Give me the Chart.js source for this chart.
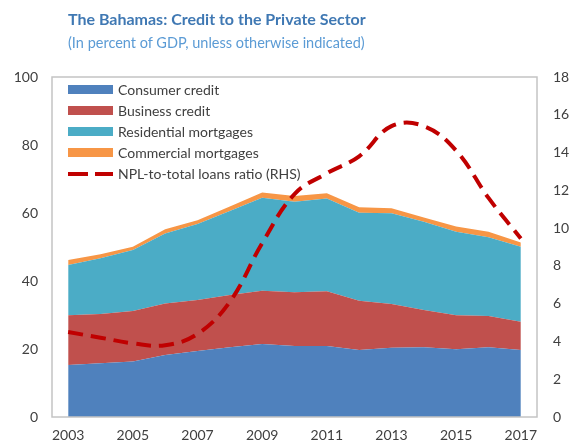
<!DOCTYPE html>
<html>
<head>
<meta charset="utf-8">
<script src="https://cdn.jsdelivr.net/npm/chart.js@4/dist/chart.umd.min.js"></script>
<style>
    html, body { margin: 0; padding: 0; background: #fff; }
    #wrap { position: relative; width: 575px; height: 446px; overflow: hidden; font-family: Lato, sans-serif; }
    #chart { position: absolute; left: 0; top: 0; }
    .title { position: absolute; left: 68px; top: 9px; font-size: 16px; font-weight: bold; color: #3f78b3; white-space: nowrap; }
    .subtitle { position: absolute; left: 68px; top: 34px; font-size: 14.5px; color: #5b9bd5; white-space: nowrap; }
    #legend { position: absolute; left: 68px; top: 79px; }
    .leg-row { display: flex; align-items: center; height: 21px; font-size: 14px; color: #404040; white-space: nowrap; }
    .leg-box { width: 45px; height: 9px; margin-right: 5px; }
    .leg-row svg { margin-right: 5px; }
</style>
</head>
<body>
<div id="wrap">
    <canvas id="chart" width="575" height="446"></canvas>
    <div class="title">The Bahamas: Credit to the Private Sector</div>
    <div class="subtitle">(In percent of GDP, unless otherwise indicated)</div>
    <div id="legend"></div>
</div>
<script>
const years = ["2003","2004","2005","2006","2007","2008","2009","2010","2011","2012","2013","2014","2015","2016","2017"];

// left axis, percent of GDP (stacked)
const consumerCredit      = [15.3, 15.8, 16.3, 18.2, 19.4, 20.5, 21.5, 20.9, 20.9, 19.7, 20.4, 20.5, 19.9, 20.5, 19.7];
const businessCredit      = [14.6, 14.5, 14.9, 15.2, 15.0, 15.4, 15.6, 15.8, 16.1, 14.5, 12.8, 11.0, 10.0,  9.2,  8.3];
const residentialMortgage = [14.8, 16.4, 17.9, 20.6, 22.4, 24.7, 27.4, 26.6, 27.3, 25.9, 26.7, 25.9, 24.6, 23.2, 22.1];
const commercialMortgage  = [ 1.5,  1.2,  1.0,  1.2,  1.1,  1.3,  1.5,  1.7,  1.5,  1.6,  1.5,  1.3,  1.5,  1.6,  1.2];

// right axis
const nplRatio = [4.5, 4.2, 3.9, 3.8, 4.4, 6.1, 9.2, 11.8, 12.9, 13.8, 15.4, 15.4, 14.1, 11.6, 9.45];

const leftTicks = [0, 20, 40, 60, 80, 100];
const rightTicks = [0, 2, 4, 6, 8, 10, 12, 14, 16, 18];

const areaSeries = [
    { label: "Consumer credit", data: consumerCredit, color: "#4f81bd" },
    { label: "Business credit", data: businessCredit, color: "#c0504d" },
    { label: "Residential mortgages", data: residentialMortgage, color: "#4bacc6" },
    { label: "Commercial mortgages", data: commercialMortgage, color: "#f79646" }
];
const NPL_LABEL = "NPL-to-total loans ratio (RHS)";
const NPL_COLOR = "#c00000";
const TICK_FONT = { family: "Lato", size: 14 };
const TICK_COLOR = "#404040";

var frame = {
    id: "frame",
    afterDraw: function(chart) {
        var a = chart.chartArea;
        var ctx = chart.ctx;
        ctx.save();
        ctx.strokeStyle = "#c4c4c4";
        ctx.lineWidth = 1.5;
        ctx.strokeRect(a.left, a.top, a.right - a.left, a.bottom - a.top);
        ctx.restore();
    }
};

function buildChart() {
    var datasets = areaSeries.map(function(s, i) {
        return {
            label: s.label,
            data: s.data,
            yAxisID: "y",
            backgroundColor: s.color,
            borderColor: s.color,
            borderWidth: 0,
            pointRadius: 0,
            tension: 0,
            fill: i === 0 ? "origin" : "-1",
            order: 1
        };
    });
    datasets.push({
        label: NPL_LABEL,
        data: nplRatio,
        yAxisID: "y1",
        borderColor: NPL_COLOR,
        backgroundColor: NPL_COLOR,
        borderWidth: 4,
        borderDash: [15, 8],
        pointRadius: 0,
        tension: 0.4,
        fill: false,
        order: 0
    });

    new Chart(document.getElementById("chart"), {
        type: "line",
        data: { labels: years, datasets: datasets },
        plugins: [frame],
        options: {
            responsive: false,
            animation: false,
            layout: { padding: { top: 77, left: 0, right: 0, bottom: 0 } },
            plugins: { legend: { display: false }, tooltip: { enabled: false } },
            scales: {
                x: {
                    offset: true,
                    grid: { display: false, drawTicks: false },
                    border: { display: false },
                    ticks: {
                        autoSkip: false,
                        maxRotation: 0,
                        padding: 10,
                        font: TICK_FONT,
                        color: TICK_COLOR,
                        callback: function(v, i) { return i % 2 === 0 ? years[i] : ""; }
                    },
                    afterFit: function(scale) { scale.height = 29; }
                },
                y: {
                    position: "left",
                    stacked: true,
                    min: 0,
                    max: 100,
                    grid: { display: false, drawTicks: false },
                    border: { display: false },
                    afterBuildTicks: function(scale) { scale.ticks = leftTicks.map(function(v) { return { value: v }; }); },
                    ticks: { padding: 14, font: TICK_FONT, color: TICK_COLOR },
                    afterFit: function(scale) { scale.width = 52; }
                },
                y1: {
                    position: "right",
                    stacked: false,
                    min: 0,
                    max: 18,
                    grid: { display: false, drawTicks: false },
                    border: { display: false },
                    afterBuildTicks: function(scale) { scale.ticks = rightTicks.map(function(v) { return { value: v }; }); },
                    ticks: { padding: 16, font: TICK_FONT, color: TICK_COLOR },
                    afterFit: function(scale) { scale.width = 38; }
                }
            }
        }
    });
}

function buildLegend() {
    var box = document.getElementById("legend");
    areaSeries.forEach(function(s) {
        var row = document.createElement("div");
        row.className = "leg-row";
        row.innerHTML = '<div class="leg-box" style="background:' + s.color + '"></div><span>' + s.label + '</span>';
        box.appendChild(row);
    });
    var row = document.createElement("div");
    row.className = "leg-row";
    row.innerHTML =
        '<svg width="45" height="10"><line x1="0" y1="5" x2="45" y2="5" stroke="' + NPL_COLOR +
        '" stroke-width="4" stroke-dasharray="20 7"/></svg><span>' + NPL_LABEL + '</span>';
    box.appendChild(row);
}

buildChart();
buildLegend();
</script>
</body>
</html>
